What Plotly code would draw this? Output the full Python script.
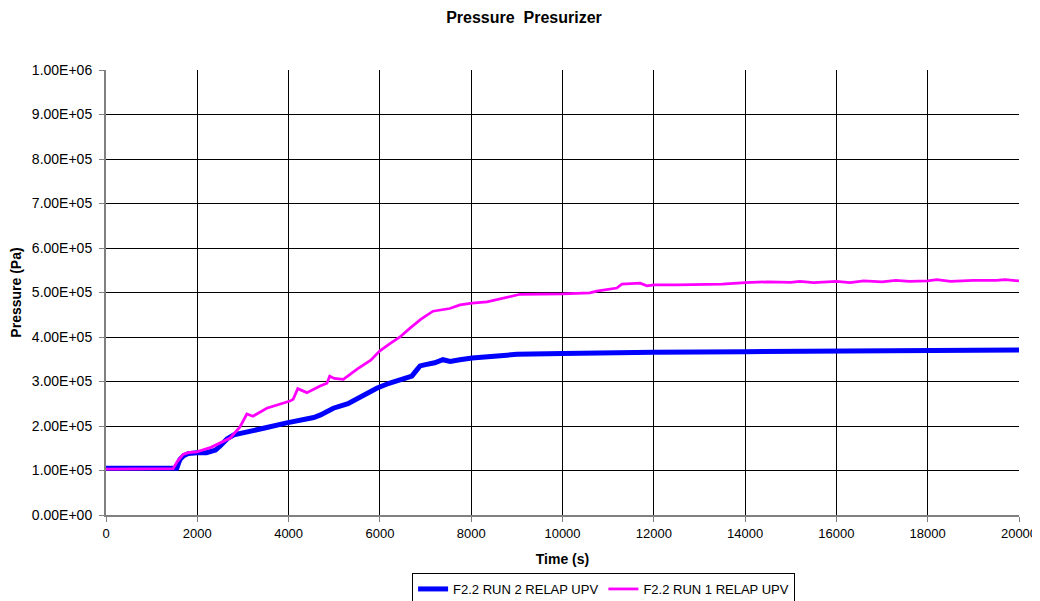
import plotly.graph_objects as go

# RUN 2 (blue)
t_run2 = [0, 800, 1500, 1550, 1620, 1700, 1800, 1900, 2000, 2200, 2400, 2500, 2650, 2800, 2950, 3200, 3500,
          3960, 4200, 4400, 4550, 4700, 4980, 5300, 5600, 5930, 6200, 6450, 6700, 6800, 6880, 7000, 7200, 7380,
          7540, 7750, 8020, 8500, 9000, 10000, 11000, 12000, 14000, 16000, 18000, 20000]
p_run2 = [1.05e5, 1.06e5, 1.07e5, 1.05e5, 1.25e5, 1.33e5, 1.38e5, 1.40e5, 1.40e5, 1.40e5, 1.46e5, 1.55e5,
          1.71e5, 1.80e5, 1.83e5, 1.89e5, 1.96e5, 2.07e5, 2.12e5, 2.18e5, 2.19e5, 2.25e5, 2.40e5, 2.50e5,
          2.66e5, 2.85e5, 2.96e5, 3.05e5, 3.12e5, 3.25e5, 3.35e5, 3.38e5, 3.42e5, 3.49e5, 3.45e5, 3.49e5,
          3.53e5, 3.57e5, 3.61e5, 3.63e5, 3.65e5, 3.66e5, 3.67e5, 3.68e5, 3.69e5, 3.71e5]

# RUN 1 (magenta)
t_run1 = [0, 800, 1470, 1560, 1690, 1800, 1990, 2300, 2720, 2935, 3000, 3085, 3220, 3520, 4030, 4100, 4200,
          4400, 4690, 4840, 4900, 5000, 5200, 5500, 5800, 6000, 6220, 6440, 6660, 6900, 7163, 7530, 7755,
          8017, 8345, 9070, 10010, 10600, 10750, 11190, 11300, 11700, 11850, 12000, 12500, 13000, 13200, 13500,
          14000, 14500, 15000, 15200, 15500, 16000, 16300, 16600, 17000, 17300, 17600, 18000, 18200, 18500,
          19000, 19500, 19700, 20000]
p_run1 = [1.03e5, 1.04e5, 1.04e5, 1.20e5, 1.36e5, 1.40e5, 1.42e5, 1.52e5, 1.73e5, 1.98e5, 2.10e5, 2.27e5,
          2.22e5, 2.40e5, 2.56e5, 2.60e5, 2.84e5, 2.75e5, 2.90e5, 2.96e5, 3.12e5, 3.07e5, 3.05e5, 3.28e5,
          3.48e5, 3.69e5, 3.85e5, 4.00e5, 4.20e5, 4.40e5, 4.58e5, 4.64e5, 4.72e5, 4.76e5, 4.79e5, 4.96e5,
          4.97e5, 4.99e5, 5.03e5, 5.10e5, 5.19e5, 5.21e5, 5.15e5, 5.17e5, 5.17e5, 5.18e5, 5.20e5, 5.19e5,
          5.22e5, 5.24e5, 5.23e5, 5.25e5, 5.22e5, 5.25e5, 5.22e5, 5.26e5, 5.24e5, 5.27e5, 5.25e5, 5.26e5,
          5.29e5, 5.25e5, 5.27e5, 5.27e5, 5.29e5, 5.26e5]

y_tickvals = [i * 1e5 for i in range(11)]
y_ticktext = ["0.00E+00", "1.00E+05", "2.00E+05", "3.00E+05", "4.00E+05", "5.00E+05",
              "6.00E+05", "7.00E+05", "8.00E+05", "9.00E+05", "1.00E+06"]
x_tickvals = list(range(0, 20001, 2000))

fig = go.Figure()
fig.add_trace(go.Scatter(x=t_run2, y=p_run2, mode="lines", name="F2.2 RUN 2 RELAP UPV",
                         line=dict(color="#0000FF", width=5)))
fig.add_trace(go.Scatter(x=t_run1, y=p_run1, mode="lines", name="F2.2 RUN 1 RELAP UPV",
                         line=dict(color="#FF00FF", width=2.75)))

# page body has an 8px margin, so the figure is sized/offset to compensate
fig.update_layout(
    width=1032, height=593,
    margin=dict(l=98, r=21, t=62, b=86, autoexpand=False),
    paper_bgcolor="white", plot_bgcolor="white",
    font=dict(family="Arial, Liberation Sans, sans-serif", size=14, color="black"),
    title=dict(text="<b>Pressure  Presurizer</b>", x=0.5, xanchor="center",
               yref="container", y=0.9848, yanchor="middle", automargin=False,
               font=dict(size=16)),
    showlegend=True,
    legend=dict(orientation="h", x=0.545, xanchor="center", y=-0.1303, yanchor="top",
                bordercolor="black", borderwidth=1, font=dict(size=13), bgcolor="white",
                itemwidth=30, tracegroupgap=0),
)
fig.update_xaxes(range=[0, 20000], tickvals=x_tickvals, ticktext=[str(v) for v in x_tickvals],
                 showgrid=True, gridcolor="#000000", gridwidth=1,
                 showline=True, linecolor="#808080", linewidth=2, mirror=False,
                 ticks="outside", ticklen=5, tickcolor="#808080", automargin=False,
                 tickfont=dict(size=13),
                 title=dict(text="<b>Time (s)</b>", font=dict(size=14), standoff=15),
                 zeroline=False)
fig.update_yaxes(range=[0, 1e6], tickvals=y_tickvals, ticktext=y_ticktext,
                 showgrid=True, gridcolor="#000000", gridwidth=1,
                 showline=True, linecolor="#808080", linewidth=2,
                 ticks="outside", ticklen=5, tickcolor="#808080", automargin=False,
                 tickfont=dict(size=14), ticklabelstandoff=4,
                 title=dict(text="<b>Pressure (Pa)</b>", font=dict(size=14), standoff=8),
                 zeroline=False)

fig.write_html("out.html")
